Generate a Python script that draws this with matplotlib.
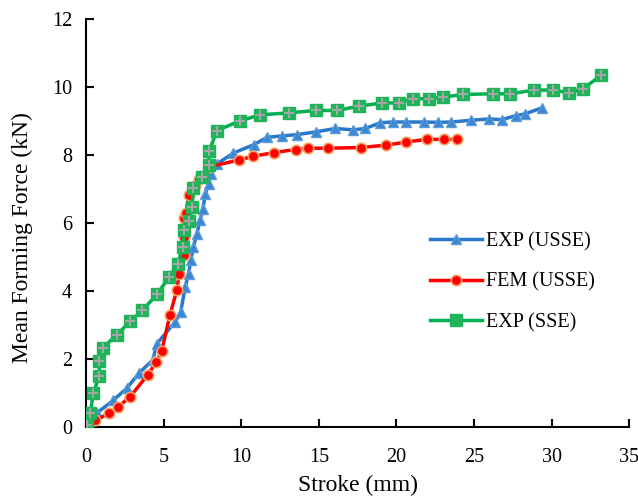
import matplotlib
matplotlib.use("Agg")
import matplotlib.pyplot as plt

plt.rcParams['font.family'] = ['Liberation Serif', 'DejaVu Serif']

# EXP (USSE)
exp_usse_x = [0.0, 0.47, 0.69, 1.76, 2.62, 3.44, 4.3, 4.56, 5.74, 6.1, 6.39, 6.6, 6.75, 6.92,
              7.14, 7.35, 7.53, 7.68, 7.9, 8.05, 8.43, 9.5, 10.8, 11.66, 12.6, 13.6, 14.8, 16.06,
              17.2, 18.0, 18.97, 19.8, 20.6, 21.8, 22.7, 23.5, 24.8, 25.96, 26.8, 27.74, 28.3, 29.4]
exp_usse_y = [0.0, 0.2, 0.41, 0.79, 1.14, 1.6, 1.97, 2.45, 3.09, 3.39, 4.12, 4.51, 4.9, 5.3,
              5.69, 6.08, 6.42, 6.85, 7.16, 7.45, 7.74, 8.06, 8.3, 8.52, 8.56, 8.6, 8.68, 8.78,
              8.74, 8.78, 8.95, 8.97, 8.97, 8.97, 8.96, 8.97, 9.02, 9.06, 9.04, 9.16, 9.21, 9.39]

# FEM (USSE)
fem_usse_x = [0.0, 0.58, 1.5, 2.08, 2.84, 3.96, 4.52, 4.88, 5.4, 5.85, 6.0, 6.28, 6.34, 6.3,
              6.45, 6.6, 7.0, 7.25, 7.89, 9.83, 10.75, 12.1, 13.5, 14.3, 15.6, 17.7, 19.35,
              20.6, 21.95, 23.1, 23.9]
fem_usse_y = [0.0, 0.2, 0.4, 0.6, 0.89, 1.53, 1.9, 2.25, 3.29, 4.03, 4.51, 5.05, 5.59, 6.15,
              6.3, 6.81, 7.1, 7.3, 7.65, 7.85, 7.96, 8.07, 8.16, 8.2, 8.2, 8.22, 8.29, 8.38,
              8.46, 8.46, 8.46]

# EXP (SSE)
exp_sse_x = [0.05, 0.26, 0.47, 0.84, 0.86, 1.07, 2.0, 2.84, 3.63, 4.56, 5.34, 5.9, 6.24, 6.34,
             6.66, 6.82, 6.92, 7.46, 7.89, 7.95, 8.43, 9.9, 11.2, 13.1, 14.84, 16.2, 17.6,
             19.1, 20.15, 21.1, 22.1, 23.0, 24.3, 26.2, 27.35, 28.9, 30.1, 31.1, 32.0, 33.2]
exp_sse_y = [0.05, 0.4, 1.0, 1.5, 1.94, 2.33, 2.72, 3.11, 3.43, 3.9, 4.4, 4.78, 5.3, 5.8,
             6.06, 6.47, 7.04, 7.35, 7.72, 8.13, 8.72, 9.0, 9.18, 9.24, 9.31, 9.31, 9.44,
             9.53, 9.53, 9.65, 9.66, 9.7, 9.78, 9.8, 9.8, 9.91, 9.91, 9.83, 9.94, 10.34]

fig = plt.figure(figsize=(6.38, 5.0), dpi=100)
ax = fig.add_axes([0.135, 0.146, 0.851, 0.816])

ax.plot(exp_usse_x, exp_usse_y, color='#2a78cc', lw=2.5, marker='^', ms=7.5,
        mfc='#3c86d6', mec='#5b9bd5', label='EXP (USSE)', zorder=3)
ax.plot(fem_usse_x, fem_usse_y, color='#ff0000', lw=2.5, marker='o', ms=7.5,
        mfc='#ff0000', mec='#f4a460', mew=1.2, label='FEM (USSE)', zorder=4)
ax.plot(exp_sse_x, exp_sse_y, color='#00b050', lw=2.5, marker='s', ms=8,
        mfc='#1eb45a', mec='#1eb45a', label='EXP (SSE)', zorder=5)
ax.plot(exp_sse_x, exp_sse_y, ls='none', marker='+', ms=6.5, mew=1.5,
        color='#a6a6a6', zorder=6)

ax.set_xlim(0, 35)
ax.set_ylim(0, 12)
ax.set_xticks(range(0, 36, 5))
ax.set_yticks(range(0, 13, 2))
for s in ['top', 'right']:
    ax.spines[s].set_visible(False)
for s in ['left', 'bottom']:
    ax.spines[s].set_linewidth(1.5)
ax.tick_params(direction='in', length=6, width=1.5, labelsize=14.5)
ax.tick_params(axis='x', pad=15)
ax.tick_params(axis='y', pad=10)
ax.set_xlabel('Stroke (mm)', fontsize=17, labelpad=6)
ax.set_ylabel('Mean Forming Force (kN)', fontsize=17)
ax.yaxis.set_label_coords(-0.098, 0.465)

ax.legend(loc='center left', bbox_to_anchor=(0.6, 0.355), frameon=False, fontsize=14.5,
          handlelength=2.6, labelspacing=1.05, handletextpad=0.2)

fig.savefig('out.png', dpi=100)
